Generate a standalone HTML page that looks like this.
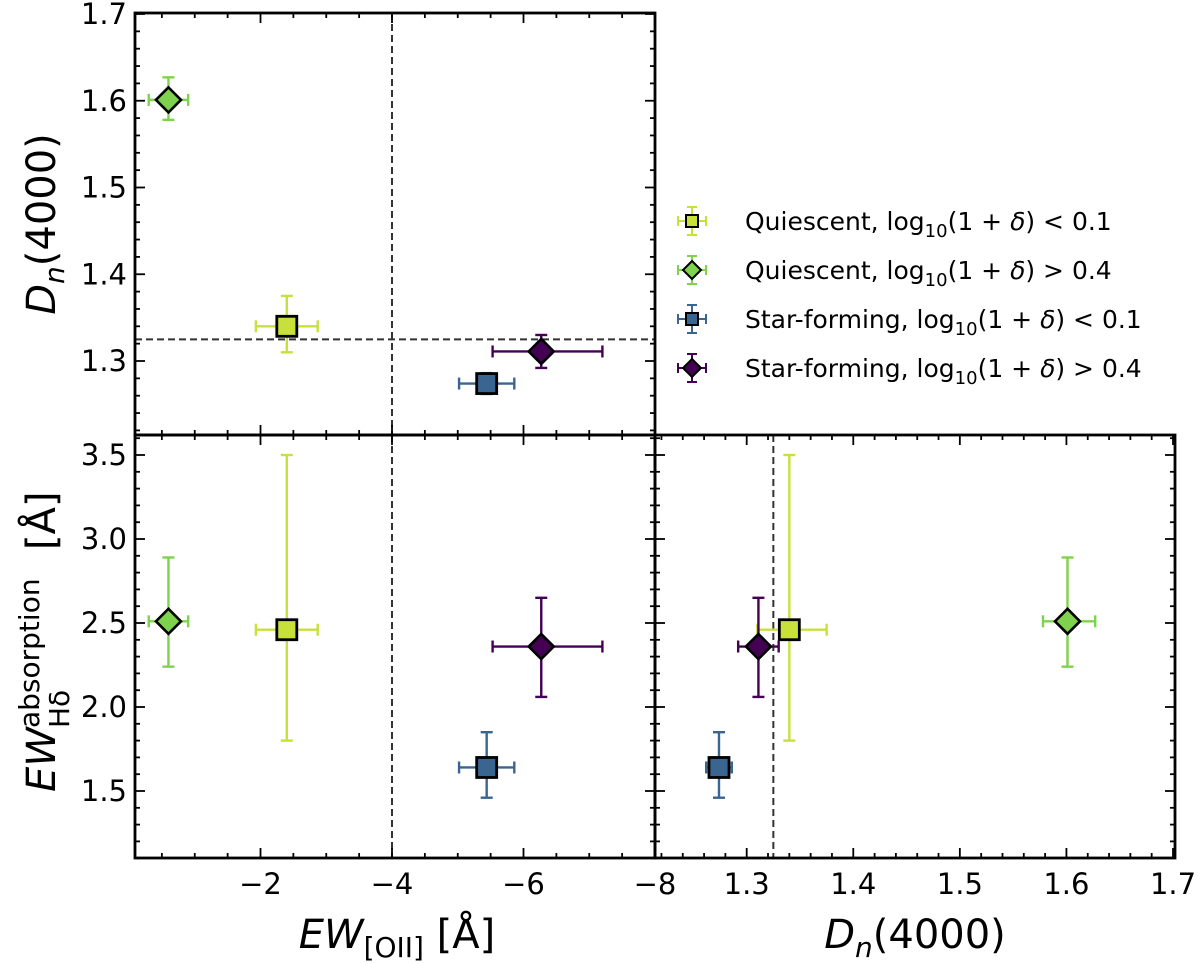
<!DOCTYPE html>
<html><head><meta charset="utf-8"><style>
html,body{margin:0;padding:0;background:#fff;}
svg{display:block;font-family:"DejaVu Sans","Liberation Sans",sans-serif;}
</style></head><body>
<svg id="c" width="1200" height="964" viewBox="0 0 1200 964"></svg>
<script>
const names = ["Quiescent low", "Quiescent high", "Star-forming low", "Star-forming high"];
const colors = ["#c8e03a", "#7ed24e", "#3a6591", "#440154"];
const markers = ["s", "d", "s", "d"];
const ewVals = [-2.4, -0.6, -5.44, -6.27];
const ewLo = [-1.93, -0.3, -5.02, -5.53];
const ewHi = [-2.87, -0.9, -5.86, -7.2];
const dnVals = [1.34, 1.601, 1.274, 1.311];
const dnLo = [1.31, 1.578, 1.262, 1.292];
const dnHi = [1.375, 1.627, 1.286, 1.33];
const hdVals = [2.46, 2.51, 1.64, 2.36];
const hdLo = [1.80, 2.24, 1.46, 2.06];
const hdHi = [3.50, 2.89, 1.85, 2.65];
const dnDivide = 1.325;
const ewDivide = -4;
const ewTicks = [-2, -4, -6, -8];
const dnTicks = [1.3, 1.4, 1.5, 1.6, 1.7];
const hdTicks = [1.5, 2.0, 2.5, 3.0, 3.5];

const NS = "http://www.w3.org/2000/svg";
const svg = document.getElementById('c');
function el(tag, attrs, parent) { const e = document.createElementNS(NS, tag); for (const k in attrs) e.setAttribute(k, attrs[k]); (parent || svg).appendChild(e); return e; }
function lin(d0, d1, r0, r1) { return v => r0 + (v - d0) * (r1 - r0) / (d1 - d0); }

const P1 = {x0:135, x1:655, y0:13, y1:435};
const P2 = {x0:135, x1:655, y0:435, y1:858};
const P3 = {x0:655, x1:1175, y0:435, y1:858};
const xEW = lin(0, -8, 129, 655);
const yDnTop = lin(1.3, 1.7, 361, 14);
const xDn = lin(1.3, 1.7, 746.7, 1173);
const yHd = lin(1.5, 3.5, 791, 455);

function ticksX(P, sc, lo, hi, step, minorStep, labels, lab) {
  for (let v = lo; v <= hi + 1e-9; v += minorStep) {
    const x = sc(v); if (x < P.x0 - 0.5 || x > P.x1 + 0.5) continue;
    const major = Math.abs(v / step - Math.round(v / step)) < 1e-6;
    const L = major ? 10 : 5;
    const t1 = el('line', {x1:x, x2:x, y1:P.y1, y2:P.y1 - L, stroke:'#000', 'stroke-width':1.8});
     
    const t2 = el('line', {x1:x, x2:x, y1:P.y0, y2:P.y0 + L, stroke:'#000', 'stroke-width':1.8});
     
  }
  if (lab) labels.forEach(v => {
    const t = el('text', {x:sc(v), y:P.y1 + 36, 'font-size':29, 'text-anchor':'middle'});
    t.textContent = (v < 0 ? '\u2212' + Math.abs(v) : v.toFixed(1));
     
  });
}
function ticksY(P, sc, lo, hi, step, minorStep, labels, lab) {
  for (let v = lo; v <= hi + 1e-9; v += minorStep) {
    const y = sc(v); if (y < P.y0 - 0.5 || y > P.y1 + 0.5) continue;
    const major = Math.abs(v / step - Math.round(v / step)) < 1e-6;
    const L = major ? 10 : 5;
    const t1 = el('line', {x1:P.x0, x2:P.x0 + L, y1:y, y2:y, stroke:'#000', 'stroke-width':1.8});
     
    const t2 = el('line', {x1:P.x1, x2:P.x1 - L, y1:y, y2:y, stroke:'#000', 'stroke-width':1.8});
     
  }
  if (lab) labels.forEach(v => {
    const t = el('text', {x:P.x0 - 8, y:sc(v) + 10, 'font-size':29, 'text-anchor':'end'});
    t.textContent = v.toFixed(1);
     
  });
}

function dash(x1, y1, x2, y2, name) {
  const d = el('line', {x1, y1, x2, y2, stroke:'#333', 'stroke-width':2, 'stroke-dasharray':'7,4'});
   
}
dash(P1.x0, yDnTop(dnDivide), P1.x1, yDnTop(dnDivide), 'dn-divide-line');
dash(xEW(ewDivide), P1.y0, xEW(ewDivide), P1.y1, 'ew-divide-line-top');
dash(xEW(ewDivide), P2.y0, xEW(ewDivide), P2.y1, 'ew-divide-line-bottom');
dash(xDn(dnDivide), P3.y0, xDn(dnDivide), P3.y1, 'dn-divide-line-bottom');

function point(cx, cy, xl, xh, yl, yh, i, name) {
  const g = el('g', {});
   
  const c = colors[i], cap = 6;
  el('line', {x1:xl, x2:xh, y1:cy, y2:cy, stroke:c, 'stroke-width':2.4}, g);
  el('line', {x1:xl, x2:xl, y1:cy - cap, y2:cy + cap, stroke:c, 'stroke-width':2.4}, g);
  el('line', {x1:xh, x2:xh, y1:cy - cap, y2:cy + cap, stroke:c, 'stroke-width':2.4}, g);
  el('line', {x1:cx, x2:cx, y1:yl, y2:yh, stroke:c, 'stroke-width':2.4}, g);
  el('line', {x1:cx - cap, x2:cx + cap, y1:yl, y2:yl, stroke:c, 'stroke-width':2.4}, g);
  el('line', {x1:cx - cap, x2:cx + cap, y1:yh, y2:yh, stroke:c, 'stroke-width':2.4}, g);
  if (markers[i] === 's') el('rect', {x:cx - 10, y:cy - 10, width:20, height:20, fill:c, stroke:'#000', 'stroke-width':2.8}, g);
  else el('polygon', {points:`${cx},${cy-12.5} ${cx+12.5},${cy} ${cx},${cy+12.5} ${cx-12.5},${cy}`, fill:c, stroke:'#000', 'stroke-width':2.6}, g);
}
for (let i = 0; i < 4; i++) {
  point(xEW(ewVals[i]), yDnTop(dnVals[i]), xEW(ewLo[i]), xEW(ewHi[i]), yDnTop(dnLo[i]), yDnTop(dnHi[i]), i, 'point-top-' + i);
  point(xEW(ewVals[i]), yHd(hdVals[i]), xEW(ewLo[i]), xEW(ewHi[i]), yHd(hdLo[i]), yHd(hdHi[i]), i, 'point-bl-' + i);
  point(xDn(dnVals[i]), yHd(hdVals[i]), xDn(dnLo[i]), xDn(dnHi[i]), yHd(hdLo[i]), yHd(hdHi[i]), i, 'point-br-' + i);
}

ticksX(P1, xEW, -8, 0.5, 2, 0.5, ewTicks, false);
ticksY(P1, yDnTop, 1.2, 1.7, 0.1, 0.02, dnTicks, true);
ticksX(P2, xEW, -8, 0.5, 2, 0.5, ewTicks, true);
ticksY(P2, yHd, 1.0, 3.7, 0.5, 0.1, hdTicks, true);
ticksX(P3, xDn, 1.2, 1.71, 0.1, 0.02, dnTicks, true);
ticksY(P3, yHd, 1.0, 3.7, 0.5, 0.1, hdTicks, false);

[P1, P2, P3].forEach((P, k) => {
  const r = el('rect', {x:P.x0, y:P.y0, width:P.x1 - P.x0, height:P.y1 - P.y0, fill:'none', stroke:'#000', 'stroke-width':2.8});
   
});
</script>
<svg width="1200" height="964" style="position:absolute;left:0;top:0" font-family="DejaVu Sans, sans-serif">
  <text x="0" y="0" font-size="40" text-anchor="middle" transform="translate(55 224) rotate(-90)"><tspan font-style="italic">D</tspan><tspan font-style="italic" font-size="28" dy="9">n</tspan><tspan dy="-9">(4000)</tspan></text>
  <g transform="translate(55 650) rotate(-90)">
    <text x="-142" y="0" font-size="40" font-style="italic">EW</text>
    <text x="-78" y="-16" font-size="28">absorption</text>
    <text x="-78" y="14" font-size="28">Hδ</text>
    <text x="100" y="0" font-size="40">[Å]</text>
  </g>
  <text x="397" y="948" font-size="40" text-anchor="middle"><tspan font-style="italic">EW</tspan><tspan font-size="28" dy="9">[OII]</tspan><tspan dy="-9"> [Å]</tspan></text>
  <text x="915" y="948" font-size="40" text-anchor="middle"><tspan font-style="italic">D</tspan><tspan font-style="italic" font-size="28" dy="9">n</tspan><tspan dy="-9">(4000)</tspan></text>
  <g font-size="25">
    <g>
      <line x1="678" x2="706" y1="221" y2="221" stroke="#c8e03a" stroke-width="2"/><line x1="692" x2="692" y1="207" y2="235" stroke="#c8e03a" stroke-width="2"/>
      <line x1="678" x2="678" y1="216" y2="226" stroke="#c8e03a" stroke-width="2"/><line x1="706" x2="706" y1="216" y2="226" stroke="#c8e03a" stroke-width="2"/>
      <line x1="687" x2="697" y1="207" y2="207" stroke="#c8e03a" stroke-width="2"/><line x1="687" x2="697" y1="235" y2="235" stroke="#c8e03a" stroke-width="2"/>
      <rect x="686" y="215" width="12" height="12" fill="#c8e03a" stroke="#000" stroke-width="2"/>
      <text x="745" y="230">Quiescent, log<tspan font-size="18" dy="7">10</tspan><tspan dy="-7">(1 + </tspan><tspan font-style="italic">δ</tspan>) &lt; 0.1</text>
    </g>
    <g>
      <line x1="678" x2="706" y1="270" y2="270" stroke="#7ed24e" stroke-width="2"/><line x1="692" x2="692" y1="256" y2="284" stroke="#7ed24e" stroke-width="2"/>
      <line x1="678" x2="678" y1="265" y2="275" stroke="#7ed24e" stroke-width="2"/><line x1="706" x2="706" y1="265" y2="275" stroke="#7ed24e" stroke-width="2"/>
      <line x1="687" x2="697" y1="256" y2="256" stroke="#7ed24e" stroke-width="2"/><line x1="687" x2="697" y1="284" y2="284" stroke="#7ed24e" stroke-width="2"/>
      <polygon points="692,261 701,270 692,279 683,270" fill="#7ed24e" stroke="#000" stroke-width="2"/>
      <text x="745" y="279">Quiescent, log<tspan font-size="18" dy="7">10</tspan><tspan dy="-7">(1 + </tspan><tspan font-style="italic">δ</tspan>) &gt; 0.4</text>
    </g>
    <g>
      <line x1="678" x2="706" y1="319" y2="319" stroke="#3a6591" stroke-width="2"/><line x1="692" x2="692" y1="305" y2="333" stroke="#3a6591" stroke-width="2"/>
      <line x1="678" x2="678" y1="314" y2="324" stroke="#3a6591" stroke-width="2"/><line x1="706" x2="706" y1="314" y2="324" stroke="#3a6591" stroke-width="2"/>
      <line x1="687" x2="697" y1="305" y2="305" stroke="#3a6591" stroke-width="2"/><line x1="687" x2="697" y1="333" y2="333" stroke="#3a6591" stroke-width="2"/>
      <rect x="686" y="313" width="12" height="12" fill="#3a6591" stroke="#000" stroke-width="2"/>
      <text x="745" y="328">Star-forming, log<tspan font-size="18" dy="7">10</tspan><tspan dy="-7">(1 + </tspan><tspan font-style="italic">δ</tspan>) &lt; 0.1</text>
    </g>
    <g>
      <line x1="678" x2="706" y1="368" y2="368" stroke="#440154" stroke-width="2"/><line x1="692" x2="692" y1="354" y2="382" stroke="#440154" stroke-width="2"/>
      <line x1="678" x2="678" y1="363" y2="373" stroke="#440154" stroke-width="2"/><line x1="706" x2="706" y1="363" y2="373" stroke="#440154" stroke-width="2"/>
      <line x1="687" x2="697" y1="354" y2="354" stroke="#440154" stroke-width="2"/><line x1="687" x2="697" y1="382" y2="382" stroke="#440154" stroke-width="2"/>
      <polygon points="692,359 701,368 692,377 683,368" fill="#440154" stroke="#000" stroke-width="2"/>
      <text x="745" y="377">Star-forming, log<tspan font-size="18" dy="7">10</tspan><tspan dy="-7">(1 + </tspan><tspan font-style="italic">δ</tspan>) &gt; 0.4</text>
    </g>
  </g>
</svg>
</body></html>
